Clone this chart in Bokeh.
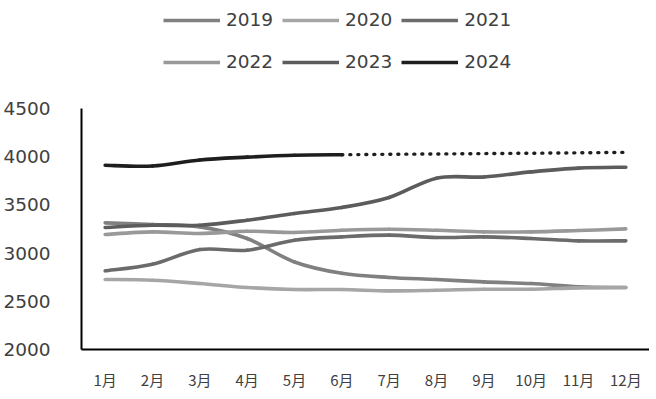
from bokeh.plotting import figure
from bokeh.models import (FactorRange, Range1d, FixedTicker, Legend, LegendItem,
                          ColumnDataSource)
from bokeh.embed import file_html
from bokeh.resources import INLINE

months = ["1月", "2月", "3月", "4月", "5月", "6月", "7月", "8月", "9月", "10月", "11月", "12月"]

y2019 = [3313, 3296, 3272, 3151, 2908, 2790, 2747, 2726, 2701, 2684, 2650, 2643]
y2020 = [2726, 2719, 2684, 2643, 2622, 2622, 2608, 2615, 2625, 2625, 2639, 2643]
y2021 = [2816, 2885, 3037, 3030, 3134, 3168, 3186, 3162, 3168, 3151, 3127, 3127]
y2022 = [3193, 3220, 3203, 3227, 3214, 3237, 3248, 3237, 3220, 3220, 3234, 3251]
y2023 = [3266, 3289, 3289, 3341, 3411, 3473, 3577, 3777, 3790, 3842, 3881, 3891]
y2024 = [3911, 3903, 3966, 3995, 4015, 4020]
y2024_forecast_months = ["6月", "7月", "8月", "9月", "10月", "11月", "12月"]
y2024_forecast = [4020, 4025, 4028, 4032, 4036, 4040, 4045]

y_ticks = [2000, 2500, 3000, 3500, 4000, 4500]

series = [
    ("2019", y2019, "#808080"),
    ("2020", y2020, "#a6a6a6"),
    ("2021", y2021, "#6b6b6b"),
    ("2022", y2022, "#999999"),
    ("2023", y2023, "#5c5c5c"),
    ("2024", y2024, "#1e1e1e"),
]

LW = 3.6
TEXT = "#404040"

# the frame reaches the top of the figure so that the legend (drawn inside it) is not clipped;
# the visible axis is limited to 2000-4500 with bounds
p = figure(frame_width=568, frame_height=349, output_backend="svg", toolbar_location=None,
           x_range=FactorRange(*months, range_padding=0, factor_padding=0),
           y_range=Range1d(2000, 5620),
           min_border_left=81, min_border_right=0, min_border_top=0, min_border_bottom=40)
p.outline_line_color = None
p.xgrid.visible = False
p.ygrid.visible = False
p.background_fill_color = "white"


def smooth_segments(vals):
    # x positions are the factor centres (synthetic coordinates of the categorical scale)
    xs = [months.index(m) + 0.5 for m in months[:len(vals)]]
    n = len(vals)
    x0, y0, x1, y1, cx0, cy0, cx1, cy1 = ([] for _ in range(8))
    for i in range(n - 1):
        a = max(i - 1, 0)
        d = min(i + 2, n - 1)
        x0.append(xs[i]); y0.append(vals[i])
        x1.append(xs[i + 1]); y1.append(vals[i + 1])
        cx0.append(xs[i] + (xs[i + 1] - xs[a]) / 6)
        cy0.append(vals[i] + (vals[i + 1] - vals[a]) / 6)
        cx1.append(xs[i + 1] - (xs[d] - xs[i]) / 6)
        cy1.append(vals[i + 1] - (vals[d] - vals[i]) / 6)
    return dict(x0=x0, y0=y0, x1=x1, y1=y1, cx0=cx0, cy0=cy0, cx1=cx1, cy1=cy1)


proxies = {}
for name, vals, color in series:
    src = ColumnDataSource(smooth_segments(vals))
    p.bezier(x0="x0", y0="y0", x1="x1", y1="y1", cx0="cx0", cy0="cy0", cx1="cx1", cy1="cy1",
             source=src, line_color=color, line_width=LW, line_cap="round")
    # legend swatch only (a single undefined point draws nothing in the plot)
    proxies[name] = p.line(x=months[:1], y=[float("nan")], line_color=color, line_width=LW)

p.line(x=y2024_forecast_months, y=y2024_forecast, line_color="#1e1e1e", line_width=3.4,
       line_dash="1 7", line_cap="round")

# axes
p.yaxis.ticker = FixedTicker(ticks=y_ticks)
p.yaxis.bounds = (2000, 4500)
p.yaxis.major_tick_line_color = None
p.yaxis.minor_tick_line_color = None
p.yaxis.axis_line_color = "black"
p.yaxis.axis_line_width = 2
p.yaxis.major_label_text_font = "DejaVu Sans"
p.yaxis.major_label_text_font_size = "18.5px"
p.yaxis.major_label_text_color = TEXT
p.yaxis.major_label_standoff = 25

p.xaxis.major_tick_line_color = None
p.xaxis.minor_tick_line_color = None
p.xaxis.axis_line_color = "black"
p.xaxis.axis_line_width = 2
p.xaxis.major_label_text_font = "Noto Sans CJK SC"
p.xaxis.major_label_text_font_size = "15px"
p.xaxis.major_label_text_color = TEXT
p.xaxis.major_label_standoff = 13


def make_legend(names, vy):
    lg = Legend(items=[LegendItem(label=n, renderers=[proxies[n]]) for n in names],
                orientation="horizontal", location=(82, vy),
                glyph_width=57, glyph_height=20, label_height=20, label_standoff=6,
                spacing=9, padding=0, margin=0, border_line_color=None,
                background_fill_alpha=0,
                label_text_font="DejaVu Sans", label_text_font_size="18.5px",
                label_text_color=TEXT)
    p.add_layout(lg, "center")


make_legend(["2019", "2020", "2021"], 319)
make_legend(["2022", "2023", "2024"], 277)

open("out.html", "w").write(file_html(p, INLINE))
